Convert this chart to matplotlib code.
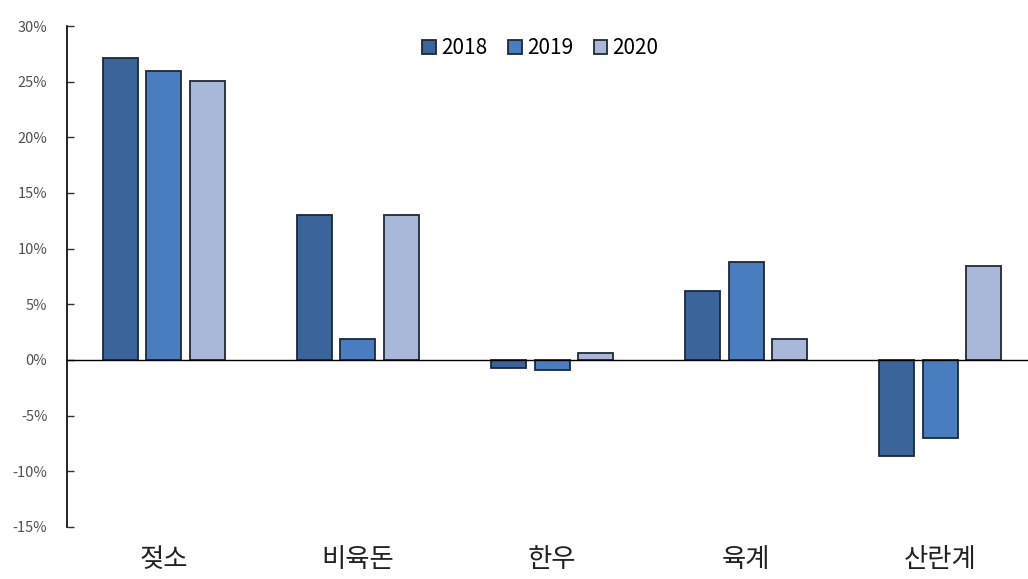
import numpy as np
import matplotlib
matplotlib.use('Agg')
from matplotlib import pyplot as plt
from matplotlib.ticker import FuncFormatter

plt.rcParams['font.family'] = ['Noto Sans CJK KR', 'DejaVu Sans']

categories = ['젖소', '비육돈', '한우', '육계', '산란계']
years = ['2018', '2019', '2020']
growth_2018 = [27.1, 13.0, -0.7, 6.2, -8.6]
growth_2019 = [26.0, 1.9, -0.9, 8.8, -7.0]
growth_2020 = [25.1, 13.0, 0.6, 1.9, 8.4]
y_ticks = [-15, -10, -5, 0, 5, 10, 15, 20, 25, 30]

colors = ['#3B649A', '#4A7DBF', '#A9B8D9']
edge = '#1E2838'


def plot_chart():
    fig = plt.figure(figsize=(10.28, 5.79), dpi=100)
    # axes runs a little past the right edge so the zero line reaches the border
    ax = fig.add_axes([0.065, 0.09, 0.944, 0.865])

    x = np.arange(len(categories))
    width = 0.18
    step = 0.225
    series = [growth_2018, growth_2019, growth_2020]
    for i, (label, vals) in enumerate(zip(years, series)):
        ax.bar(x + (i - 1) * step, vals, width, color=colors[i],
               edgecolor=edge, linewidth=1.3, label=label, zorder=2)

    ax.axhline(0, color='black', linewidth=1.0, zorder=3)

    ax.set_xlim(-0.5, len(categories) - 0.5)
    ax.set_ylim(-15, 30)
    ax.set_yticks(y_ticks)
    ax.yaxis.set_major_formatter(FuncFormatter(lambda v, p: '{:.0f}%'.format(v)))
    ax.tick_params(axis='y', direction='in', length=5, width=1,
                   labelsize=10.5, colors='#333333', labelcolor='#505050', pad=14)
    ax.set_xticks(x)
    ax.set_xticklabels(categories, fontsize=19, color='#222222')
    ax.tick_params(axis='x', length=0, pad=14)

    for side in ['top', 'right', 'bottom']:
        ax.spines[side].set_visible(False)
    ax.spines['left'].set_linewidth(1.2)

    ax.legend(loc='upper center', bbox_to_anchor=(0.488, 1.015), ncol=3,
              frameon=False, fontsize=15, handlelength=0.65, handleheight=0.65,
              handletextpad=0.25, columnspacing=1.0)

    fig.savefig('out.png', dpi=100)


plot_chart()
